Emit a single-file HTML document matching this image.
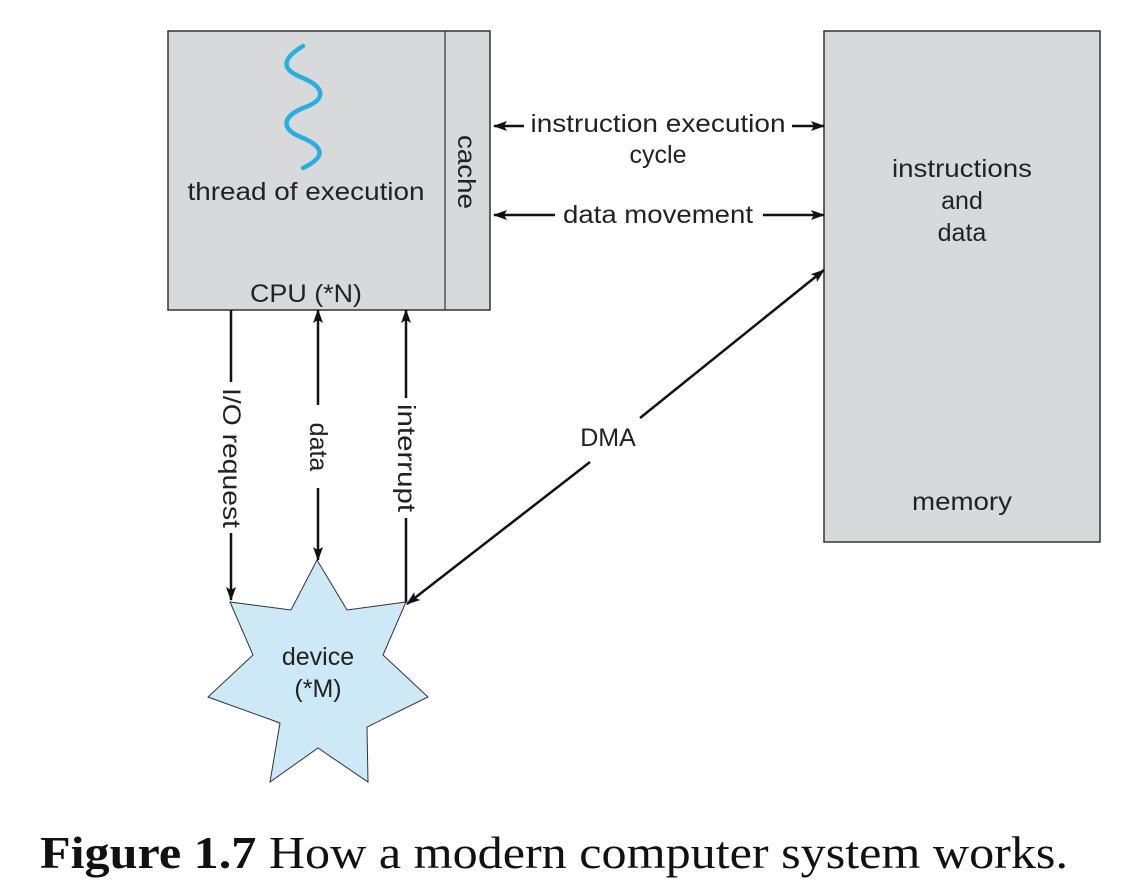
<!DOCTYPE html>
<html><head><meta charset="utf-8"><style>
html,body{margin:0;padding:0;background:#fff;}
svg{display:block;}
text{font-family:"Liberation Sans",Arial,sans-serif;fill:#222;}
</style></head><body>
<svg width="1132" height="892" viewBox="0 0 1132 892" xmlns="http://www.w3.org/2000/svg" font-family="Liberation Sans, sans-serif">
<defs>
<marker id="a" viewBox="0 0 14 10" refX="13" refY="5" markerWidth="14" markerHeight="10" orient="auto-start-reverse" markerUnits="userSpaceOnUse">
<path d="M0,0 L14,5 L0,10 L3,5 z" fill="#111"/>
</marker>
</defs>
<rect width="1132" height="892" fill="#fff"/>
<rect x="168" y="31" width="322" height="279" fill="#d8d9db" stroke="#333" stroke-width="1.5"/>
<line x1="445" y1="31" x2="445" y2="310" stroke="#333" stroke-width="1.2"/>
<path d="M303,46 C280,60 282,70 303,78 C326,88 326,100 303,108 C280,118 282,130 303,138 C326,148 324,158 303,168" fill="none" stroke="#29aee0" stroke-width="4.5" stroke-linecap="round"/>
<text x="306" y="200" font-size="25" text-anchor="middle" textLength="237" lengthAdjust="spacingAndGlyphs">thread of execution</text>
<text x="306" y="302" font-size="25" text-anchor="middle" textLength="112" lengthAdjust="spacingAndGlyphs">CPU (*N)</text>
<text x="0" y="0" font-size="25" text-anchor="middle" transform="translate(458,172) rotate(90)" textLength="74" lengthAdjust="spacingAndGlyphs">cache</text>
<rect x="824" y="31" width="276" height="511" fill="#d8d9db" stroke="#333" stroke-width="1.5"/>
<text x="962" y="177" font-size="25" text-anchor="middle" textLength="140" lengthAdjust="spacingAndGlyphs">instructions</text>
<text x="962" y="209" font-size="25" text-anchor="middle">and</text>
<text x="962" y="241" font-size="25" text-anchor="middle">data</text>
<text x="962" y="510" font-size="25" text-anchor="middle" textLength="100" lengthAdjust="spacingAndGlyphs">memory</text>
<line x1="524" y1="126" x2="494" y2="126" stroke="#111" stroke-width="2.5" marker-end="url(#a)"/>
<line x1="792" y1="126" x2="824" y2="126" stroke="#111" stroke-width="2.5" marker-end="url(#a)"/>
<text x="658" y="132" font-size="25" text-anchor="middle" textLength="255" lengthAdjust="spacingAndGlyphs">instruction execution</text>
<text x="658" y="163" font-size="25" text-anchor="middle">cycle</text>
<line x1="555" y1="215" x2="494" y2="215" stroke="#111" stroke-width="2.5" marker-end="url(#a)"/>
<line x1="763" y1="215" x2="824" y2="215" stroke="#111" stroke-width="2.5" marker-end="url(#a)"/>
<text x="658" y="223" font-size="25" text-anchor="middle" textLength="190" lengthAdjust="spacingAndGlyphs">data movement</text>
<polygon points="317,560 347,610 406,602 383,655 428,697 367,727 368,782 318,748 270,782 280,723 208,697 253,655 230,602 291,610" fill="#cde8f6" stroke="#333" stroke-width="1"/>
<text x="318" y="665" font-size="25" text-anchor="middle">device</text>
<text x="318" y="697" font-size="25" text-anchor="middle">(*M)</text>
<line x1="231" y1="310" x2="231" y2="382" stroke="#111" stroke-width="2.5"/>
<line x1="231" y1="533" x2="231" y2="600" stroke="#111" stroke-width="2.5" marker-end="url(#a)"/>
<text x="0" y="0" font-size="25" text-anchor="middle" transform="translate(223,458) rotate(90)" textLength="140" lengthAdjust="spacingAndGlyphs">I/O request</text>
<line x1="318" y1="405" x2="318" y2="310" stroke="#111" stroke-width="2.5" marker-end="url(#a)"/>
<line x1="318" y1="488" x2="318" y2="560" stroke="#111" stroke-width="2.5" marker-end="url(#a)"/>
<text x="0" y="0" font-size="25" text-anchor="middle" transform="translate(310,447) rotate(90)">data</text>
<line x1="406" y1="398" x2="406" y2="310" stroke="#111" stroke-width="2.5" marker-end="url(#a)"/>
<line x1="406" y1="518" x2="406" y2="602" stroke="#111" stroke-width="2.5"/>
<text x="0" y="0" font-size="25" text-anchor="middle" transform="translate(398,458) rotate(90)" textLength="108" lengthAdjust="spacingAndGlyphs">interrupt</text>
<line x1="590" y1="462" x2="407" y2="604" stroke="#111" stroke-width="2.5" marker-end="url(#a)"/>
<line x1="640" y1="418" x2="824" y2="270" stroke="#111" stroke-width="2.5" marker-end="url(#a)"/>
<text x="608" y="446" font-size="25" text-anchor="middle">DMA</text>
<text x="40" y="868" font-size="46" style="font-family:'Liberation Serif',serif;fill:#111" textLength="1028" lengthAdjust="spacingAndGlyphs"><tspan font-weight="bold">Figure 1.7</tspan>  How a modern computer system works.</text>
</svg>
</body></html>
